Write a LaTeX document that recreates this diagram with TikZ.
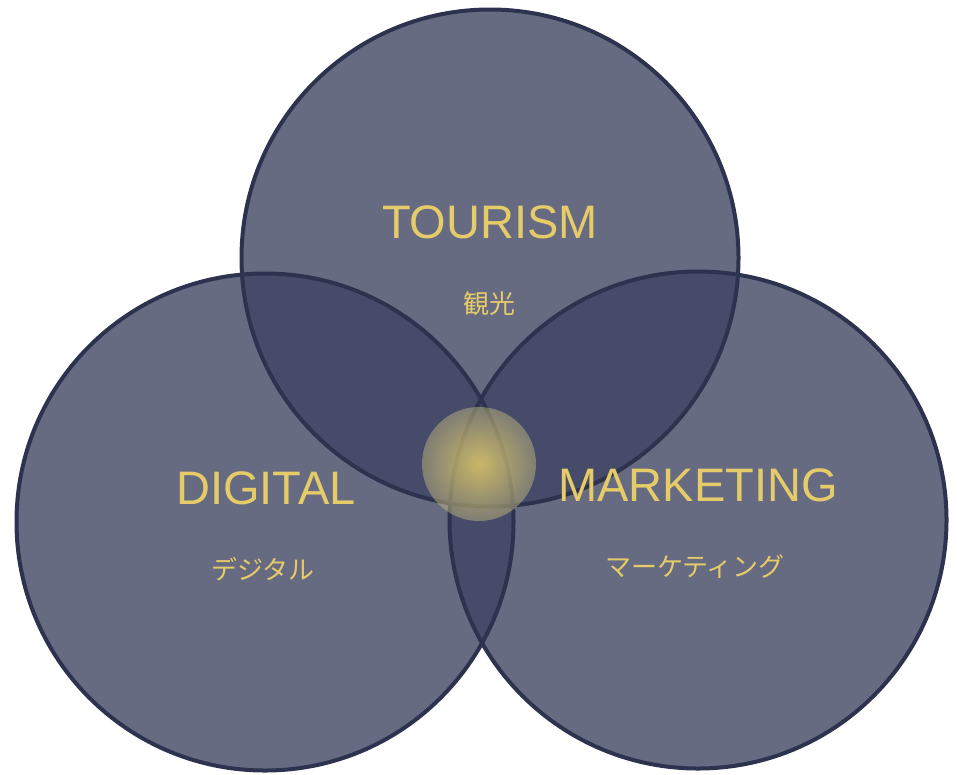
\documentclass[tikz,border=0pt]{standalone}
\usepackage{fontspec}
\setmainfont{Liberation Sans}
\newfontfamily\jpfont{Noto Sans CJK JP}
\usetikzlibrary{positioning,fadings}
\definecolor{setfill}{RGB}{61,67,97}
\definecolor{setline}{RGB}{45,50,78}
\definecolor{labelgold}{RGB}{230,203,105}
\definecolor{glowin}{RGB}{235,210,100}
\definecolor{glowout}{RGB}{200,190,135}
\tikzfading[name=glowfade, inner color=transparent!30, outer color=transparent!100]

\begin{document}
\begin{tikzpicture}[x=1pt,y=-1pt]
\tikzstyle{set}=[circle,fill=setfill,fill opacity=0.79,minimum size=497pt,inner sep=0pt]
\tikzstyle{ring}=[circle,draw=setline,line width=4pt,minimum size=497pt,inner sep=0pt]
\tikzstyle{title}=[text=labelgold,inner sep=0pt,font=\fontsize{47}{50}\selectfont]
\tikzstyle{sub}=[text=labelgold,inner sep=0pt,font=\jpfont\fontsize{26}{30}\selectfont]
\useasboundingbox (0,0) rectangle (957,774);
% the three sets
\node [set] (tourism) at (490,258) {};
\node [set] (digital) at (265,522) {};
\node [set] (marketing) at (698,520) {};
\foreach \s in {tourism,digital,marketing}
  \node [ring] at (\s) {};
% glow in the middle
\node [circle,minimum size=114pt,inner sep=0pt,fill=glowout,fill opacity=0.45] (core) at (479,464) {};
\node [circle,minimum size=114pt,inner sep=0pt,fill=glowin,path fading=glowfade] at (core) {};
% labels
\node [title] (tourismen) at (490,222.5) {TOURISM};
\node [sub] (tourismjp) at (489,304) {観光};
\node [title] (digitalen) at (266,488) {DIGITAL};
\node [sub] (digitaljp) at (263,569) {デジタル};
\node [title] (marketingen) at (698,485.5) {MARKETING};
\node [sub] (marketingjp) at (695,567) {マーケティング};
\end{tikzpicture}
\end{document}
